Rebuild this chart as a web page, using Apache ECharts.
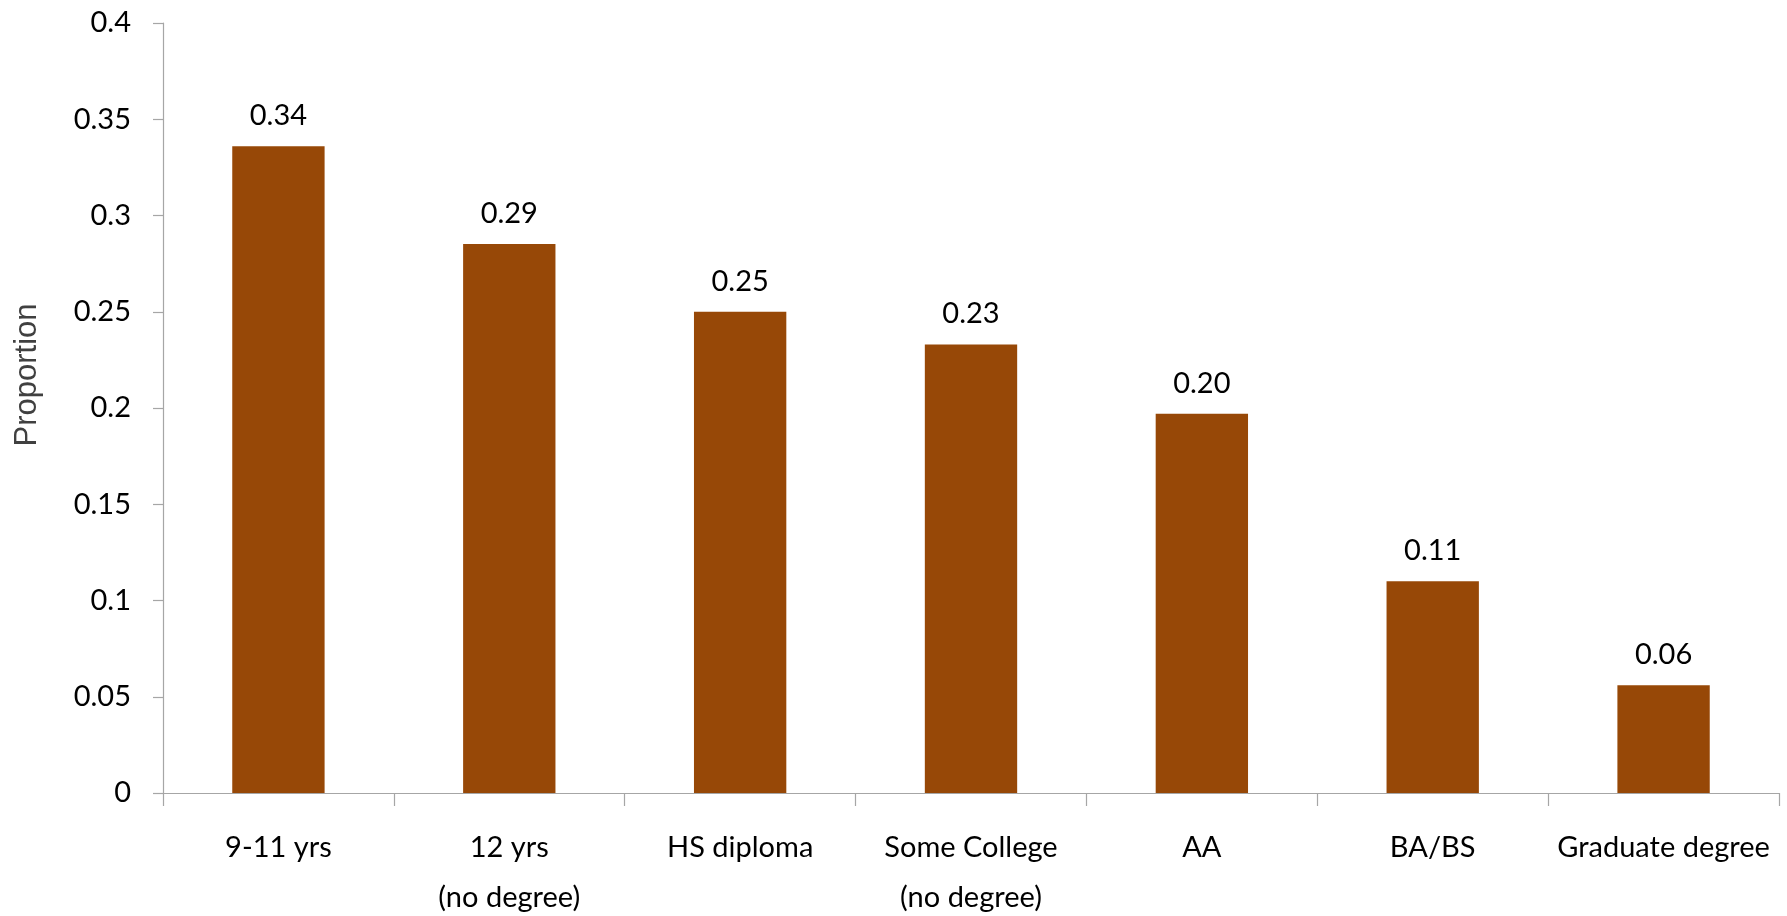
<!DOCTYPE html>
<html>
<head>
<meta charset="utf-8">
<script src="https://cdn.jsdelivr.net/npm/echarts@6/dist/echarts.min.js"></script>
<style>
html,body{margin:0;padding:0;background:#fff;}
#chart{width:1787px;height:916px;}
</style>
</head>
<body>
<div id="chart"></div>
<script>
const categories = ['9-11 yrs', '12 yrs\n(no degree)', 'HS diploma', 'Some College\n(no degree)', 'AA', 'BA/BS', 'Graduate degree'];
const proportions = [0.336, 0.2852, 0.250, 0.233, 0.197, 0.110, 0.056];
const yTicks = { min: 0, max: 0.4, interval: 0.05 };

const font = 'Lato, "Open Sans", sans-serif';
const axisGray = '#a6a6a6';

const chart = echarts.init(document.getElementById('chart'), null, { renderer: 'canvas' });
chart.setOption({
  animation: false,
  backgroundColor: '#ffffff',
  grid: { left: 163, right: 8, top: 23, bottom: 123, containLabel: false, outerBoundsMode: 'none' },
  xAxis: {
    type: 'category',
    data: categories,
    axisLine: { show: true, lineStyle: { color: axisGray, width: 1.2 } },
    axisTick: { show: true, length: 13, lineStyle: { color: axisGray, width: 1.2 } },
    axisLabel: { color: '#000', fontFamily: font, fontSize: 29, lineHeight: 50, margin: 30, interval: 0 }
  },
  yAxis: {
    type: 'value',
    min: yTicks.min, max: yTicks.max, interval: yTicks.interval,
    name: 'Proportion',
    nameLocation: 'middle',
    nameGap: 120,
    nameRotate: 90,
    nameTextStyle: { color: '#404040', fontFamily: '"Liberation Sans", Arial, sans-serif', fontSize: 31, padding: [0, 0, 0, 66] },
    axisLine: { show: true, lineStyle: { color: axisGray, width: 1.2 } },
    axisTick: { show: true, inside: false, length: 10, lineStyle: { color: axisGray, width: 1.2 } },
    splitLine: { show: false },
    axisLabel: { color: '#000', fontFamily: font, fontSize: 29, margin: 32 }
  },
  series: [{
    type: 'bar',
    data: proportions,
    barCategoryGap: '60%',
    itemStyle: { color: '#974807' },
    label: {
      show: true, position: 'top', distance: 16,
      color: '#000', fontFamily: font, fontSize: 29,
      formatter: p => p.value.toFixed(2)
    }
  }]
});
</script>
</body>
</html>
